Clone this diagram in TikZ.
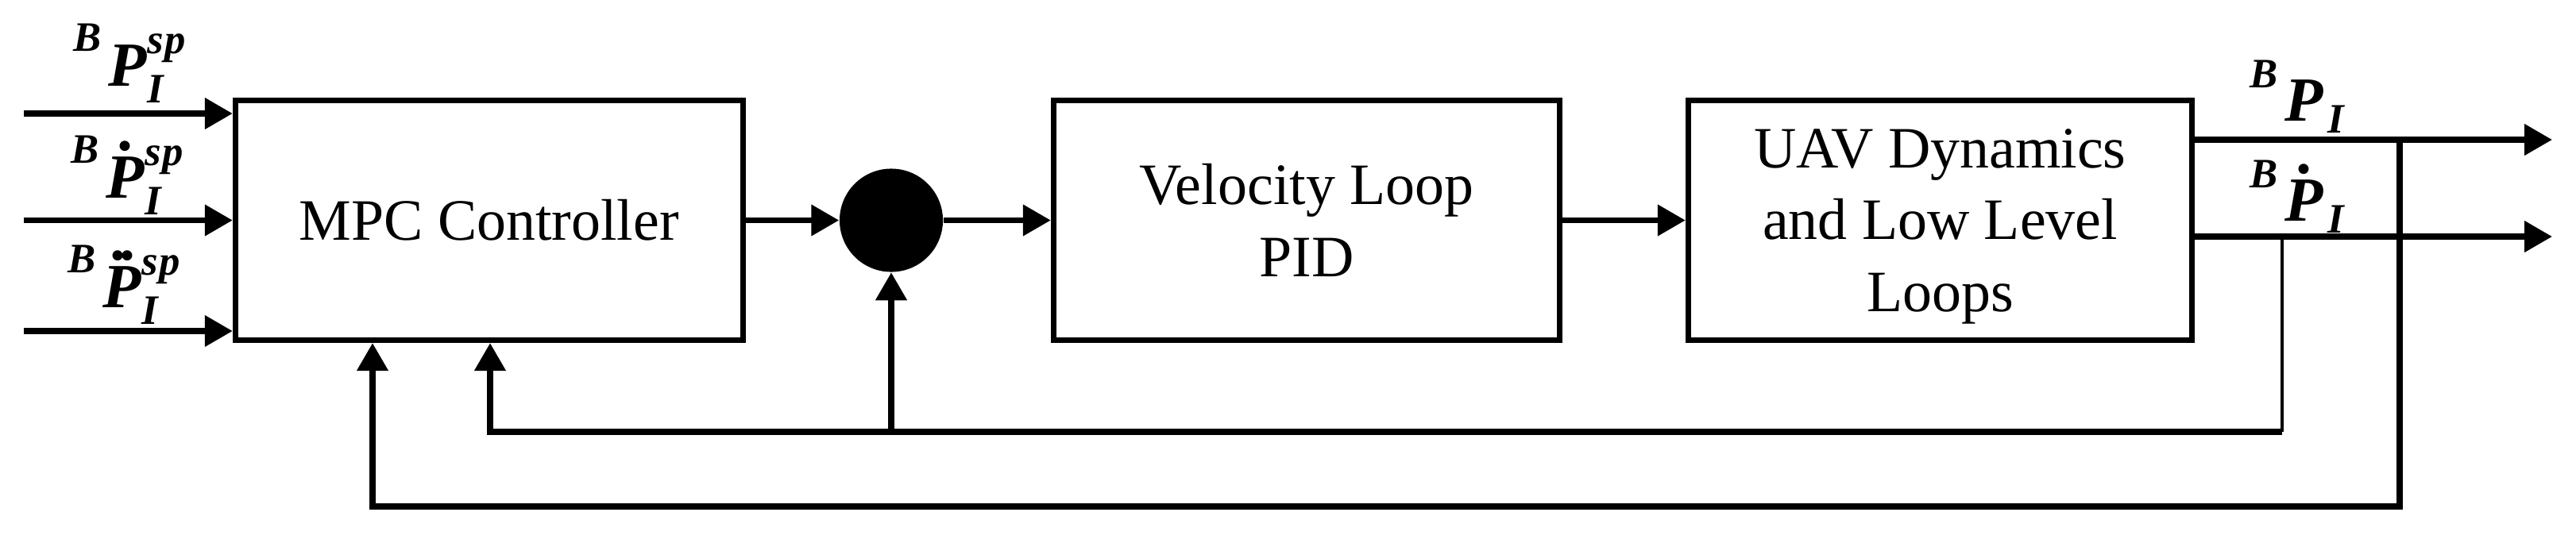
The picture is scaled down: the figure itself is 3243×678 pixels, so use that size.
\documentclass[tikz,border=0pt]{standalone}
\usepackage{fontspec}
\setmainfont{Liberation Serif}
\usetikzlibrary{arrows.meta}
\newcommand\smallf[1]{{\fontsize{15}{15}\selectfont #1}}
\newcommand\onedotacc{\makebox[0pt][l]{\hspace{0.17cm}\raisebox{0.59cm}{.}}}
\newcommand\twodotacc{\makebox[0pt][l]{\hspace{0.12cm}\raisebox{0.59cm}{.}\hspace{-0.085cm}\raisebox{0.59cm}{.}}}
\newcommand\lablsp[1]{\raisebox{0.43cm}{\smallf{B}}\hspace{0.09cm}#1P\rlap{\raisebox{0.40cm}{\smallf{s\kern0.02cm p}}}\raisebox{-0.21cm}{\smallf{I}}}
\newcommand\labrt[1]{\raisebox{0.41cm}{\smallf{B}}\hspace{0.09cm}#1P\hspace{0.05cm}\raisebox{-0.15cm}{\smallf{I}}}
\begin{document}
\begin{tikzpicture}[x=0.01cm,y=-0.01cm,
  blk/.style={draw, line width=0.07cm, minimum height=3.02cm, inner sep=0pt, align=center,
    font=\fontsize{21}{25.8}\selectfont},
  arr/.style={line width=0.075cm, -{Triangle[length=0.35cm,width=0.38cm]}},
  thinln/.style={line width=0.04cm},
  lab/.style={anchor=base west, inner sep=0pt, font=\fontsize{22.5}{22.5}\selectfont\bfseries\itshape}]
\useasboundingbox (0,0) rectangle (3243,678);
\node[blk, minimum width=6.385cm] (mpc) at (615.75,277.5) {MPC Controller};
\node[blk, minimum width=6.37cm] (vel) at (1645,277.5) {Velocity Loop\\PID};
\node[blk, minimum width=6.34cm, text depth=0pt] (uav) at (2442.5,277.5) {UAV Dynamics\\and Low Level\\Loops};
\node[circle, fill, minimum size=1.3cm, inner sep=0pt] (sum) at (1122,277.5) {};
% inputs
\coordinate (i1) at (30,143);
\coordinate (i2) at (30,277.5);
\coordinate (i3) at (30,417);
\draw[arr] (i1) -- (i1 -| mpc.west);
\draw[arr] (i2) -- (i2 -| mpc.west);
\draw[arr] (i3) -- (i3 -| mpc.west);
% forward path
\draw[arr] (mpc.east) -- (sum.west);
\draw[arr] (sum.east) -- (vel.west);
\draw[arr] (vel.east) -- (uav.west);
% outputs
\coordinate (o1) at (3213,176);
\coordinate (o2) at (3213,298);
\draw[arr] (uav.east |- o1) -- (o1);
\draw[arr] (uav.east |- o2) -- (o2);
% feedback
\coordinate (t1) at (3021,176);
\coordinate (b1) at (469,638);
\draw[arr] (t1) -- (t1 |- b1) -- (b1) -- (b1 |- mpc.south);
\coordinate (t2) at (2873,298);
\coordinate (c2) at (2873,544);
\coordinate (b2) at (617,544);
\draw[thinln] (t2) -- (c2);
\draw[arr] (c2) -- (b2) -- (b2 |- mpc.south);
\draw[arr] (sum |- b2) -- (sum.south);
% labels
\node[lab] (l1) at (92,108) {\lablsp{}};
\node[lab] (l2) at (89,249) {\lablsp{\onedotacc}};
\node[lab] (l3) at (85,387) {\lablsp{\twodotacc}};
\node[lab] (r1) at (2832,152) {\labrt{}};
\node[lab] (r2) at (2832,278) {\labrt{\onedotacc}};
\end{tikzpicture}
\end{document}
